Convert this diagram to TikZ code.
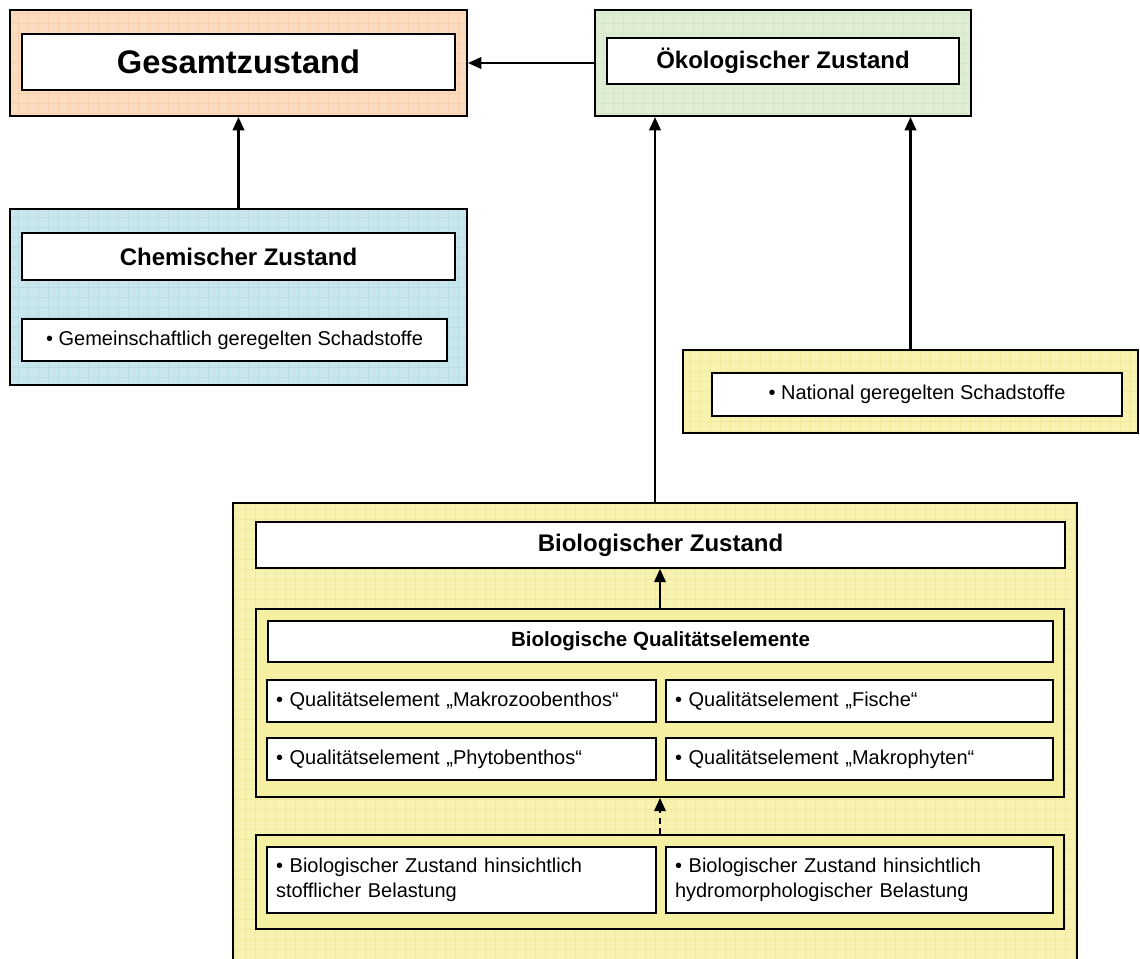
\documentclass[tikz,border=0pt]{standalone}
\usepackage{fontspec}
\setmainfont{Liberation Sans}
\usetikzlibrary{arrows.meta}

\definecolor{orangeF}{HTML}{FCDCBF}
\definecolor{orangeG}{HTML}{F9D0AD}
\definecolor{greenF}{HTML}{E0EDD5}
\definecolor{greenG}{HTML}{D3E6C5}
\definecolor{blueF}{HTML}{C9E6EC}
\definecolor{blueG}{HTML}{B9DDE4}
\definecolor{yellowF}{HTML}{F7F2B0}
\definecolor{yellowG}{HTML}{F1EA9C}
\definecolor{yellowP}{HTML}{F5EFA2}

% box given by its corners in pixel units
\newcommand\pxbox[7]{%
  \node[#6, minimum width={(#4-#2)*0.75pt}, minimum height={(#5-#3)*0.75pt}]
    (#1) at ({(#2+#4)/2},{(#3+#5)/2}) {#7};}

\tikzset{
  gridfill/.style 2 args={fill=#1,
    path picture={\draw[#2, line width=0.45pt]
      (path picture bounding box.south west) grid[step=7.5pt]
      (path picture bounding box.north east);}},
  outerbox/.style={draw, line width=1.4pt, inner sep=0pt},
  panel/.style={draw, line width=1.2pt, fill=yellowP, inner sep=0pt},
  titlebox/.style={draw, line width=1.1pt, fill=white, inner sep=0pt},
  elem/.style={draw, line width=1.1pt, fill=white, inner xsep=6.75pt, inner ysep=0pt,
    align=left, text width={(#1)*0.75pt-13.5pt}},
  big/.style={font=\fontsize{24.5}{29}\selectfont\bfseries},
  head/.style={font=\fontsize{18}{22}\selectfont\bfseries},
  subhead/.style={font=\fontsize{15.4}{18.5}\selectfont\bfseries},
  plain/.style={font=\fontsize{15}{18.75}\selectfont},
  link/.style={line width=1.9pt, -{Triangle[length=10pt, width=8.5pt]}},
}

\begin{document}
\begin{tikzpicture}[x=0.75pt, y=-0.75pt]
\useasboundingbox (0,0) rectangle (1140,958);

% overall status
\pxbox{gesOuter}{10}{10}{467}{116}{outerbox, gridfill={orangeF}{orangeG}}{}
\pxbox{gesIn}{22}{34}{455}{90}{titlebox, big}{Gesamtzustand}

% ecological status
\pxbox{okoOuter}{595}{10}{971}{116}{outerbox, gridfill={greenF}{greenG}}{}
\pxbox{okoIn}{607}{38}{959}{84}{titlebox, head}{\raisebox{-1.5pt}{Ökologischer Zustand}}

% chemical status
\pxbox{cheOuter}{10}{209}{467}{385}{outerbox, gridfill={blueF}{blueG}}{}
\pxbox{cheIn}{22}{233}{455}{280}{titlebox, head}{Chemischer Zustand}
\pxbox{cheB}{22}{319}{447}{361}{titlebox, plain}{• Gemeinschaftlich geregelten Schadstoffe}

% nationally regulated pollutants
\pxbox{natOuter}{683}{350}{1138}{433}{outerbox, gridfill={yellowF}{yellowG}}{}
\pxbox{natIn}{712}{373}{1122}{416}{titlebox, plain}{• National geregelten Schadstoffe}

% biological status
\pxbox{bioOuter}{233}{503}{1077}{975}{outerbox, gridfill={yellowF}{yellowG}}{}
\pxbox{bioIn}{256}{522}{1065}{568}{titlebox, head}{Biologischer Zustand}

\pxbox{qeOuter}{256}{609}{1064}{797}{panel}{}
\pxbox{qeIn}{268}{621}{1053}{662}{titlebox, subhead}{Biologische Qualitätselemente}
\pxbox{e1}{267}{680}{656}{722}{elem=389, plain}{• Qualitätselement „Makrozoobenthos“}
\pxbox{e2}{666}{680}{1053}{722}{elem=387, plain}{• Qualitätselement „Fische“}
\pxbox{e3}{267}{738}{656}{780}{elem=389, plain}{• Qualitätselement „Phytobenthos“}
\pxbox{e4}{666}{738}{1053}{780}{elem=387, plain}{• Qualitätselement „Makrophyten“}

\pxbox{bsOuter}{256}{835}{1064}{929}{panel}{}
\pxbox{b1}{267}{847}{656}{913}{elem=389, plain}{• Biologischer Zustand hinsichtlich\\stofflicher Belastung}
\pxbox{b2}{666}{847}{1053}{913}{elem=387, plain}{• Biologischer Zustand hinsichtlich\\hydromorphologischer Belastung}

% connectors
\draw[link] (okoOuter.west) -- (gesOuter.east);
\draw[link] (cheOuter.north) -- (gesOuter.south);
\draw[link] (bioOuter.north) -- (bioOuter.north |- okoOuter.south);
\draw[link] (natOuter.north) -- (natOuter.north |- okoOuter.south);
\draw[link] (qeOuter.north) -- (qeOuter.north |- bioIn.south);
\draw[link, line width=1.6pt, dash pattern=on 4.5pt off 3.5pt] (bsOuter.north) -- (qeOuter.south);
\end{tikzpicture}
\end{document}
